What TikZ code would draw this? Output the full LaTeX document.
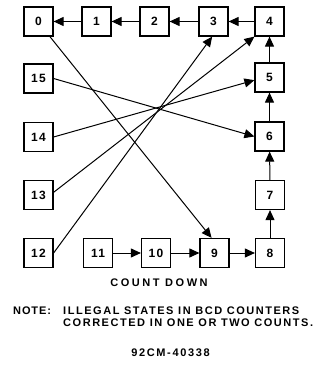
\documentclass[tikz,border=0pt]{standalone}
\usepackage{fontspec}
\setmainfont{Liberation Sans}
\usetikzlibrary{arrows.meta}
\begin{document}
\begin{tikzpicture}[x=1pt,y=-1pt,
  st/.style={draw,line width=1.2pt,minimum size=29pt,inner sep=0pt,font=\fontsize{12}{12}\bfseries\selectfont\addfontfeature{LetterSpace=10}},
  ar/.style={line width=1pt,-{Triangle[length=10pt,width=9pt]}},
  lbl/.style={inner sep=0pt,font=\fontsize{11}{12}\bfseries\selectfont}]
\useasboundingbox (0,0) rectangle (321,371);
\node[st] (n0) at (38.5,21.5) {0};
\node[st] (n1) at (96.5,21.5) {1};
\node[st] (n2) at (154.5,21.5) {2};
\node[st] (n3) at (213.5,21.5) {3};
\node[st] (n4) at (269.5,21.5) {4};
\node[st] (n15) at (38.5,78.5) {15};
\node[st] (n5) at (269.5,77.5) {5};
\node[st] (n14) at (38.5,137) {14};
\node[st] (n6) at (269.5,136.5) {6};
\node[st] (n13) at (38.5,195) {13};
\node[st] (n7) at (270,195) {7};
\node[st] (n12) at (38.5,253) {12};
\node[st] (n11) at (98,253) {11};
\node[st] (n10) at (156,253) {10};
\node[st] (n9) at (214.5,253) {9};
\node[st] (n8) at (270,253) {8};
\draw[ar] (n4) -- (n3);
\draw[ar] (n3) -- (n2);
\draw[ar] (n2) -- (n1);
\draw[ar] (n1) -- (n0);
\draw[ar] (n8) -- (n7);
\draw[ar] (n7) -- (n6);
\draw[ar] (n6) -- (n5);
\draw[ar] (n5) -- (n4);
\draw[ar] (n11) -- (n10);
\draw[ar] (n10) -- (n9);
\draw[ar] (n9) -- (n8);
\draw[ar] (n0.-53) -- (n9.101);
\draw[ar] (n15.east) -- (n6.west);
\draw[ar] (n14.east) -- (n5.-170);
\draw[ar] (n13.10) -- (n4.south west);
\draw[ar] (n12.east) -- (n3.-95);
\node[lbl] (cd) at (159,283) {\addfontfeature{LetterSpace=23}COUNT DOWN};
\node[lbl,anchor=west] (note) at (13,311) {\addfontfeature{LetterSpace=8}NOTE:};
\node[lbl,anchor=west] (l1) at (63,311) {\addfontfeature{LetterSpace=14}ILLEGAL STATES IN BCD COUNTERS};
\node[lbl,anchor=west] (l2) at (63,322.5) {\addfontfeature{LetterSpace=14}CORRECTED IN ONE OR TWO COUNTS.};
\node[lbl] (id) at (170.5,352.5) {\addfontfeature{LetterSpace=15}92CM-40338};
\end{tikzpicture}
\end{document}
